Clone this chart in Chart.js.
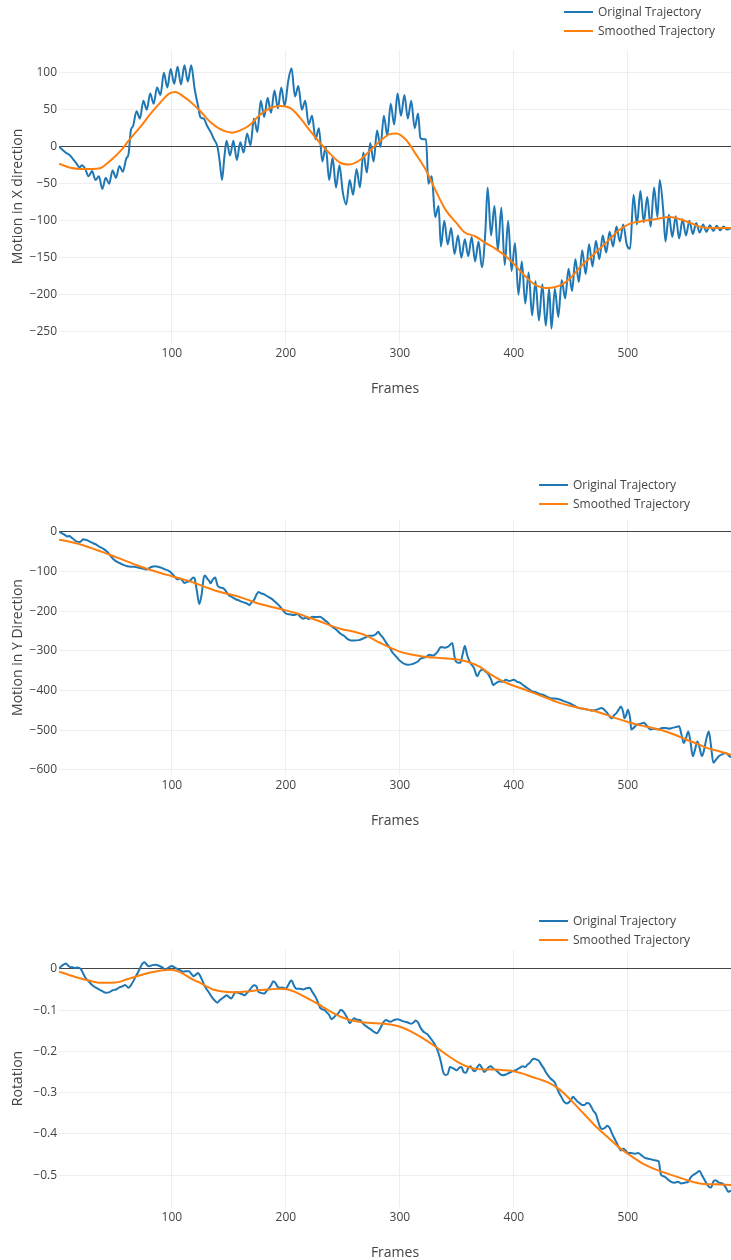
<!DOCTYPE html>
<html>
<head>
<meta charset="utf-8">
<title>Trajectory smoothing</title>
<script src="https://cdn.jsdelivr.net/npm/chart.js@4.4.1/dist/chart.umd.min.js"></script>
<style>
  body { margin: 0; background: #fff; font-family: "Open Sans", sans-serif; color: #444; }
  #page { position: relative; width: 731px; height: 1260px; overflow: hidden; }
  canvas { position: absolute; left: 0; }
  .legend-item { position: absolute; height: 18px; line-height: 18px; font-size: 12px; white-space: nowrap; }
  .legend-line { position: absolute; left: 0; top: 8px; width: 29px; height: 2px; }
  .legend-text { position: absolute; top: 0; left: 34px; }
</style>
</head>
<body>
<div id="page">
  <canvas id="motionX" width="731" height="361"></canvas>
  <canvas id="motionY" width="731" height="323"></canvas>
  <canvas id="rotation" width="731" height="325"></canvas>
</div>
<script>
const seriesNames = ["Original Trajectory", "Smoothed Trajectory"];
const axisTitleX = "Frames";

// [frame, value] pairs
const xOriginal = [
  [1,0],[4,-4],[7,-8],[10,-11],[13,-16],[16,-22],[19,-28],[21,-25],[24,-30],[27,-40],
  [30,-33],[33,-45],[36,-40],[39,-57],[42,-42],[45,-50],[48,-32],[51,-42],[54,-26],[57,-34],
  [60,-16],[62,-10],[64,22],[66,28],[69,48],[72,38],[75,62],[78,50],[81,72],[84,58],
  [87,80],[90,70],[93,100],[96,80],[99,105],[102,85],[105,108],[108,84],[111,110],[114,88],
  [117,110],[120,78],[123,55],[125,40],[128,38],[131,28],[134,20],[137,10],[140,0],[142,-20],
  [144,-45],[146,-15],[148,8],[151,-12],[154,8],[157,-18],[160,6],[163,-8],[166,18],[169,2],
  [172,38],[175,20],[178,62],[181,40],[184,66],[187,46],[190,76],[193,52],[196,80],[199,55],
  [202,88],[205,106],[208,68],[211,82],[214,50],[217,62],[220,30],[223,42],[226,10],[229,25],
  [232,-20],[235,0],[238,-45],[241,-15],[244,-55],[247,-25],[250,-62],[253,-78],[256,-45],[259,-65],
  [262,-30],[265,-55],[268,-8],[271,-35],[274,5],[277,-20],[280,22],[283,0],[286,42],[289,15],
  [292,58],[295,30],[298,72],[301,42],[304,70],[307,38],[310,62],[313,25],[316,45],[318,12],
  [321,10],[323,10],[325,-50],[328,-40],[331,-95],[334,-80],[336,-135],[339,-100],[342,-132],[345,-110],
  [348,-145],[351,-120],[354,-150],[357,-125],[360,-148],[363,-122],[366,-155],[369,-128],[372,-163],[375,-115],
  [377,-55],[380,-120],[383,-80],[386,-140],[389,-82],[392,-160],[395,-100],[398,-168],[401,-130],[404,-200],
  [407,-155],[410,-212],[413,-170],[416,-228],[419,-182],[422,-235],[425,-186],[428,-242],[431,-192],[433,-246],
  [436,-192],[439,-230],[442,-180],[445,-205],[448,-165],[451,-195],[454,-152],[457,-183],[460,-140],[463,-172],
  [466,-132],[469,-162],[472,-127],[475,-152],[478,-120],[481,-143],[484,-115],[487,-135],[490,-108],[493,-128],
  [496,-105],[499,-132],[502,-138],[505,-65],[508,-105],[511,-60],[514,-102],[517,-68],[520,-108],[523,-55],
  [526,-95],[528,-45],[531,-85],[533,-128],[536,-92],[539,-122],[542,-94],[545,-124],[548,-98],[551,-120],
  [554,-100],[557,-118],[560,-103],[563,-116],[566,-105],[569,-115],[572,-106],[575,-114],[578,-107],[581,-113],
  [584,-108],[587,-112],[591,-110]
];
const xSmoothed = [
  [1,-23],[10,-28],[20,-30],[30,-30],[37,-29],[46,-19],[56,-4],[63,10],[72,26],[81,44],
  [90,60],[98,72],[103,74],[110,68],[116,61],[125,48],[134,33],[142,24],[153,19],[160,22],
  [169,30],[177,43],[186,52],[195,55],[204,52],[212,40],[221,22],[230,5],[239,-10],[248,-22],
  [256,-24],[265,-18],[274,-5],[283,8],[291,17],[297,18],[305,10],[314,-10],[323,-32],[331,-58],
  [340,-85],[349,-102],[357,-116],[366,-121],[375,-130],[384,-138],[393,-148],[401,-160],[410,-175],[419,-187],
  [431,-191],[441,-187],[450,-177],[458,-163],[467,-150],[476,-137],[484,-125],[493,-112],[502,-104],[511,-101],
  [524,-98],[537,-95],[546,-98],[555,-103],[563,-108],[576,-110],[591,-110]
];

const yOriginal = [
  [1,0],[3,-3],[5,-6],[7,-10],[8,-12],[10,-11],[12,-15],[13,-17],[15,-22],[17,-25],
  [19,-26],[21,-22],[22,-19],[24,-20],[26,-22],[28,-25],[31,-29],[34,-33],[37,-39],[40,-43],
  [43,-50],[46,-60],[49,-70],[52,-76],[55,-80],[58,-84],[61,-87],[64,-88],[67,-88],[70,-90],
  [73,-92],[76,-94],[78,-95],[80,-92],[82,-89],[85,-87],[88,-88],[91,-91],[94,-95],[97,-98],
  [99,-102],[101,-108],[103,-115],[105,-120],[107,-118],[109,-122],[111,-129],[113,-127],[116,-123],[119,-115],
  [120,-118],[122,-150],[124,-182],[126,-160],[128,-115],[129,-110],[131,-118],[133,-125],[134,-130],[136,-120],
  [138,-115],[140,-135],[142,-140],[145,-142],[148,-152],[150,-160],[153,-165],[156,-170],[158,-172],[161,-176],
  [164,-179],[166,-181],[168,-185],[170,-178],[172,-172],[174,-160],[176,-152],[178,-155],[181,-158],[184,-163],
  [187,-168],[190,-175],[193,-183],[195,-189],[198,-200],[200,-206],[203,-208],[207,-210],[210,-207],[212,-212],
  [215,-219],[218,-216],[220,-220],[223,-214],[226,-215],[230,-214],[233,-220],[236,-227],[240,-238],[244,-246],
  [248,-257],[251,-262],[254,-270],[257,-274],[260,-274],[264,-273],[267,-270],[270,-266],[273,-262],[276,-262],
  [279,-258],[281,-252],[283,-260],[285,-266],[288,-280],[291,-291],[293,-302],[296,-312],[299,-322],[301,-327],
  [304,-333],[307,-335],[310,-334],[313,-331],[316,-326],[318,-320],[320,-318],[323,-315],[326,-310],[329,-312],
  [332,-306],[334,-298],[336,-290],[339,-292],[342,-290],[344,-285],[346,-280],[348,-315],[349,-326],[351,-330],
  [353,-330],[355,-310],[357,-288],[359,-310],[361,-326],[363,-335],[365,-343],[367,-360],[368,-364],[370,-352],
  [373,-347],[375,-352],[377,-356],[380,-372],[382,-386],[384,-382],[387,-377],[390,-378],[393,-373],[396,-376],
  [400,-373],[403,-378],[406,-381],[408,-386],[410,-390],[413,-396],[416,-402],[419,-404],[422,-408],[425,-410],
  [428,-414],[432,-419],[436,-420],[441,-423],[445,-428],[449,-432],[453,-438],[457,-444],[461,-446],[465,-448],
  [469,-450],[473,-448],[477,-444],[480,-450],[482,-457],[484,-465],[486,-470],[488,-462],[490,-457],[492,-448],
  [494,-440],[496,-455],[497,-470],[499,-458],[500,-448],[502,-470],[503,-498],[505,-494],[508,-486],[511,-484],
  [514,-481],[517,-490],[520,-498],[523,-496],[527,-498],[530,-494],[533,-494],[536,-496],[539,-494],[542,-492],
  [545,-490],[547,-510],[549,-532],[551,-520],[553,-503],[555,-530],[557,-565],[559,-548],[561,-528],[563,-545],
  [565,-565],[567,-548],[569,-520],[571,-503],[573,-540],[575,-582],[577,-575],[580,-565],[583,-560],[586,-557],
  [589,-565],[591,-568]
];
const ySmoothed = [
  [1,-20],[10,-25],[20,-32],[30,-42],[40,-52],[50,-63],[60,-74],[70,-85],[80,-95],[90,-104],
  [100,-112],[110,-120],[120,-129],[130,-140],[140,-150],[150,-157],[160,-165],[170,-175],[180,-184],[190,-191],
  [200,-198],[210,-206],[220,-216],[230,-226],[240,-237],[250,-246],[260,-252],[270,-261],[280,-276],[290,-290],
  [300,-302],[310,-309],[320,-314],[330,-317],[340,-319],[350,-322],[360,-328],[370,-340],[380,-360],[390,-376],
  [400,-388],[410,-398],[420,-409],[430,-420],[440,-431],[450,-439],[460,-445],[470,-451],[480,-460],[490,-470],
  [500,-479],[510,-487],[520,-493],[530,-500],[540,-510],[550,-522],[560,-533],[570,-545],[580,-553],[591,-562]
];

const rotOriginal = [
  [1,0],[3,0.006],[5,0.01],[7,0.013],[9,0.008],[11,0.004],[13,0.004],[15,0.002],[17,0.003],[20,0],
  [22,-0.01],[24,-0.021],[27,-0.03],[30,-0.039],[33,-0.045],[36,-0.05],[39,-0.054],[42,-0.058],[45,-0.057],[48,-0.052],
  [51,-0.05],[54,-0.045],[57,-0.042],[59,-0.039],[62,-0.046],[64,-0.04],[66,-0.031],[68,-0.02],[70,-0.01],[72,0.001],
  [74,0.012],[76,0.016],[78,0.01],[80,0.006],[83,0.009],[86,0.01],[89,0.007],[92,0.003],[94,-0.002],[97,0.003],
  [100,0.007],[102,0.004],[104,0.001],[107,-0.003],[110,-0.007],[112,-0.006],[115,-0.006],[117,-0.012],[119,-0.018],[121,-0.014],
  [123,-0.01],[125,-0.018],[127,-0.03],[129,-0.043],[132,-0.055],[135,-0.068],[138,-0.078],[140,-0.082],[142,-0.076],[144,-0.072],
  [146,-0.068],[148,-0.064],[150,-0.068],[152,-0.072],[154,-0.064],[156,-0.056],[158,-0.058],[160,-0.06],[162,-0.062],[164,-0.064],
  [166,-0.058],[168,-0.052],[170,-0.045],[172,-0.04],[174,-0.042],[176,-0.056],[178,-0.058],[181,-0.06],[183,-0.054],[185,-0.048],
  [187,-0.04],[189,-0.03],[191,-0.035],[193,-0.044],[195,-0.046],[197,-0.045],[200,-0.048],[202,-0.04],[204,-0.03],[205,-0.028],
  [207,-0.04],[209,-0.048],[212,-0.048],[215,-0.05],[218,-0.047],[221,-0.046],[223,-0.055],[226,-0.068],[228,-0.08],[230,-0.094],
  [232,-0.098],[234,-0.1],[236,-0.106],[238,-0.112],[240,-0.122],[242,-0.118],[244,-0.112],[246,-0.108],[248,-0.1],[250,-0.102],
  [252,-0.11],[254,-0.12],[256,-0.132],[258,-0.125],[260,-0.12],[262,-0.123],[265,-0.124],[267,-0.13],[269,-0.136],[272,-0.142],
  [275,-0.148],[278,-0.154],[280,-0.156],[282,-0.148],[284,-0.138],[286,-0.128],[288,-0.124],[290,-0.127],[292,-0.128],[295,-0.124],
  [298,-0.122],[301,-0.125],[304,-0.128],[307,-0.13],[310,-0.133],[312,-0.13],[314,-0.125],[316,-0.13],[318,-0.142],[320,-0.15],
  [322,-0.155],[324,-0.158],[326,-0.165],[328,-0.172],[330,-0.18],[332,-0.19],[334,-0.205],[336,-0.225],[338,-0.25],[340,-0.257],
  [342,-0.255],[344,-0.238],[346,-0.24],[348,-0.243],[350,-0.246],[352,-0.24],[354,-0.238],[356,-0.25],[358,-0.252],[360,-0.24],
  [362,-0.236],[364,-0.245],[366,-0.248],[368,-0.238],[370,-0.232],[372,-0.24],[374,-0.25],[376,-0.245],[378,-0.238],[380,-0.236],
  [382,-0.242],[384,-0.245],[386,-0.25],[388,-0.255],[390,-0.258],[393,-0.256],[396,-0.252],[399,-0.248],[402,-0.245],[405,-0.24],
  [408,-0.236],[410,-0.238],[412,-0.232],[414,-0.228],[416,-0.22],[418,-0.218],[420,-0.22],[422,-0.223],[424,-0.232],[426,-0.24],
  [428,-0.25],[430,-0.258],[432,-0.265],[434,-0.27],[436,-0.276],[438,-0.29],[440,-0.302],[442,-0.312],[444,-0.322],[446,-0.326],
  [448,-0.324],[450,-0.318],[452,-0.31],[454,-0.316],[456,-0.322],[458,-0.326],[460,-0.33],[462,-0.33],[464,-0.325],[466,-0.326],
  [468,-0.335],[470,-0.345],[472,-0.352],[474,-0.37],[476,-0.385],[478,-0.388],[480,-0.385],[482,-0.38],[484,-0.385],[486,-0.398],
  [488,-0.41],[490,-0.42],[492,-0.432],[494,-0.44],[496,-0.436],[498,-0.44],[500,-0.446],[503,-0.446],[506,-0.448],[509,-0.446],
  [512,-0.452],[515,-0.458],[518,-0.46],[521,-0.462],[524,-0.464],[527,-0.466],[529,-0.498],[532,-0.503],[535,-0.51],[538,-0.516],
  [541,-0.518],[544,-0.516],[547,-0.52],[550,-0.518],[553,-0.516],[555,-0.506],[557,-0.5],[560,-0.495],[563,-0.49],[565,-0.5],
  [567,-0.51],[569,-0.52],[571,-0.528],[573,-0.53],[575,-0.515],[577,-0.512],[580,-0.518],[583,-0.52],[586,-0.53],[588,-0.54],
  [590,-0.538],[591,-0.537]
];
const rotSmoothed = [
  [1,-0.007],[10,-0.015],[17,-0.021],[25,-0.027],[31,-0.031],[38,-0.034],[43,-0.034],[50,-0.033],[55,-0.031],[60,-0.026],
  [66,-0.021],[73,-0.015],[81,-0.009],[88,-0.005],[95,-0.003],[100,-0.002],[104,-0.005],[110,-0.012],[119,-0.027],[125,-0.034],
  [130,-0.042],[136,-0.05],[145,-0.055],[154,-0.057],[165,-0.055],[175,-0.052],[185,-0.05],[195,-0.048],[202,-0.05],[208,-0.056],
  [218,-0.07],[228,-0.085],[238,-0.102],[248,-0.116],[258,-0.125],[269,-0.13],[280,-0.132],[294,-0.136],[302,-0.142],[310,-0.152],
  [320,-0.168],[332,-0.19],[342,-0.21],[351,-0.226],[360,-0.238],[368,-0.243],[376,-0.244],[384,-0.244],[392,-0.246],[400,-0.248],
  [408,-0.254],[416,-0.262],[425,-0.27],[432,-0.278],[440,-0.292],[450,-0.318],[461,-0.35],[472,-0.382],[482,-0.407],[492,-0.432],
  [502,-0.452],[512,-0.47],[520,-0.481],[530,-0.492],[540,-0.501],[550,-0.51],[558,-0.517],[566,-0.521],[576,-0.522],[591,-0.524]
];

const panels = [
  { id: "motionX", yTitle: "Motion in X direction", original: xOriginal, smoothed: xSmoothed,
    yMin: -265.3, yMax: 130.7, yStep: 50, top: 38, legendLeft: 564, legendTop: 12 },
  { id: "motionY", yTitle: "Motion in Y Direction", original: yOriginal, smoothed: ySmoothed,
    yMin: -612.6, yMax: 29.5, yStep: 100, top: 508, legendLeft: 539, legendTop: 485 },
  { id: "rotation", yTitle: "Rotation", original: rotOriginal, smoothed: rotSmoothed,
    yMin: -0.577, yMax: 0.0456, yStep: 0.1, top: 938, legendLeft: 539, legendTop: 921 }
];

const colors = ["#1f77b4", "#ff7f0e"];

Chart.defaults.font.family = '"Open Sans", sans-serif';
Chart.defaults.color = "#444";

function toPoints(pairs) {
  return pairs.map(p => ({ x: p[0], y: p[1] }));
}

function fmtTick(v) {
  const r = Math.round(v * 1000) / 1000;
  return String(r).replace("-", "\u2212");
}

function renderLegend(p) {
  const page = document.getElementById("page");
  seriesNames.forEach((name, i) => {
    const item = document.createElement("div");
    item.className = "legend-item";
    item.style.left = p.legendLeft + "px";
    item.style.top = (p.legendTop - 9 + i * 18.5) + "px";
    item.innerHTML = `<div class="legend-line" style="background:${colors[i]}"></div>
      <span class="legend-text">${name}</span>`;
    page.appendChild(item);
  });
}

function buildChart(p) {
  const canvas = document.getElementById(p.id);
  canvas.style.top = p.top + "px";
  new Chart(canvas, {
    type: "line",
    data: {
      datasets: [
        { label: seriesNames[0], data: toPoints(p.original), borderColor: colors[0], order: 1 },
        { label: seriesNames[1], data: toPoints(p.smoothed), borderColor: colors[1], order: 0 }
      ]
    },
    options: {
      responsive: false,
      animation: false,
      devicePixelRatio: 1,
      layout: { padding: { top: 12, left: 0, right: 0, bottom: 0 } },
      elements: {
        point: { radius: 0 },
        line: { borderWidth: 2, cubicInterpolationMode: "monotone", fill: false }
      },
      plugins: { legend: { display: false }, tooltip: { enabled: false } },
      scales: {
        x: {
          type: "linear",
          min: 1,
          max: 590.5,
          afterFit: s => { s.height = 56; },
          grid: { color: "#eee", drawTicks: false },
          border: { display: false },
          ticks: { stepSize: 100, includeBounds: false, padding: 3, font: { size: 12 }, color: "#444" },
          title: { display: true, text: axisTitleX, font: { size: 14 }, color: "#444", padding: { top: 0, bottom: 1.6 } }
        },
        y: {
          min: p.yMin,
          max: p.yMax,
          afterFit: s => { s.width = 59; },
          grid: {
            color: ctx => (ctx.tick && ctx.tick.value === 0 ? "#444" : "#eee"),
            drawTicks: false
          },
          border: { display: false },
          ticks: { stepSize: p.yStep, includeBounds: false, padding: 2, font: { size: 12 }, color: "#444", callback: fmtTick },
          title: { display: true, text: p.yTitle, font: { size: 14 }, color: "#444", padding: { top: 9.6, bottom: 0 } }
        }
      }
    }
  });
  renderLegend(p);
}

panels.forEach(buildChart);
</script>
</body>
</html>
